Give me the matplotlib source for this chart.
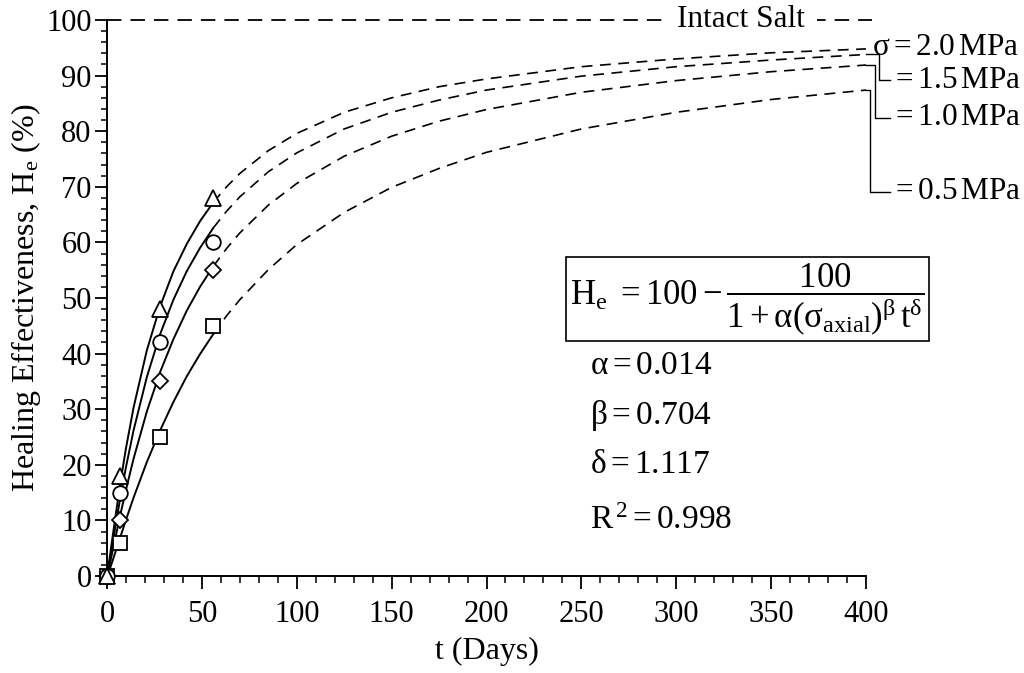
import numpy as np
import matplotlib
matplotlib.use('Agg')
from matplotlib import pyplot as plt
from matplotlib.ticker import MultipleLocator

plt.rcParams['font.family'] = ['Liberation Serif', 'DejaVu Serif']
plt.rcParams['mathtext.fontset'] = 'custom'
plt.rcParams['mathtext.rm'] = 'Liberation Serif'
plt.rcParams['mathtext.it'] = 'Liberation Serif:italic'
plt.rcParams['mathtext.default'] = 'rm'

# measured points (days, healing effectiveness %)
t_test = [0, 7, 28, 56]
he_20 = [0, 18, 48, 68]
he_15 = [0, 15, 42, 60]
he_10 = [0, 10, 35, 55]
he_05 = [0, 6, 25, 45]

# fitted curves: solid part up to 56 days, dashed beyond
t_solid = [0, 1.5, 3, 7, 10, 14, 21, 28, 35, 42, 49, 56]
fit_20_solid = [0, 3.5, 7.2, 16.7, 23.0, 30.3, 40.6, 48.5, 54.8, 59.7, 63.8, 67.2]
fit_15_solid = [0, 2.8, 6.0, 14.1, 19.6, 26.2, 35.8, 43.5, 49.7, 54.8, 59.0, 62.6]
fit_10_solid = [0, 2.2, 4.6, 11.0, 15.5, 21.1, 29.6, 36.7, 42.6, 47.7, 52.0, 55.7]
fit_05_solid = [0, 1.3, 2.8, 7.0, 10.1, 14.1, 20.5, 26.2, 31.3, 35.9, 39.9, 43.5]

t_dash = [56, 63, 70, 85, 100, 125, 150, 175, 200, 250, 300, 350, 400]
fit_20_dash = [67.2, 70.0, 72.4, 76.5, 79.6, 83.4, 86.0, 88.0, 89.4, 91.6, 93.0, 94.1, 94.8]
fit_15_dash = [62.6, 65.6, 68.2, 72.7, 76.1, 80.4, 83.4, 85.6, 87.4, 89.9, 91.6, 92.8, 93.8]
fit_10_dash = [55.7, 58.9, 61.7, 66.7, 70.6, 75.5, 79.1, 81.8, 83.9, 87.0, 89.1, 90.7, 91.9]
fit_05_dash = [43.5, 46.8, 49.7, 55.1, 59.6, 65.4, 69.9, 73.3, 76.2, 80.4, 83.4, 85.7, 87.4]

# drawn bottom-up so the triangle sits on top at the origin
series = [
    ('s', he_05, fit_05_solid, fit_05_dash),
    ('D', he_10, fit_10_solid, fit_10_dash),
    ('o', he_15, fit_15_solid, fit_15_dash),
    ('^', he_20, fit_20_solid, fit_20_dash),
]
msizes = {'^': 11, 'o': 10.5, 'D': 8.5, 's': 10.5}

fig = plt.figure(figsize=(10.24, 6.73), dpi=100)
ax = fig.add_axes([0.1045, 0.1441, 0.7412, 0.8262])

for m, pts, solid, dash in series:
    ax.plot(t_solid, solid, color='black', lw=1.4, zorder=2)
    ax.plot(t_dash, dash, color='black', lw=1.2, dashes=(6.5, 4.5), zorder=2)
    ax.plot(t_test, pts, linestyle='none', marker=m, ms=msizes[m],
            mfc='white', mec='black', mew=1.3, clip_on=False, zorder=3)

# intact salt reference line
ax.plot([0, 403], [100, 100], color='black', lw=1.3, dashes=(8, 5), clip_on=False)
ax.text(334, 100, 'Intact Salt', fontsize=22.5, ha='center', va='center',
        bbox=dict(fc='white', ec='none', pad=9), zorder=4)

# stress labels with connectors
ax.text(403, 95.1, r'$\sigma = 2.0\,\mathrm{MPa}$', fontsize=22.5, ha='left', va='center',
        clip_on=False)
conn = [(406.9, 93.8, 89.2, '=1.5'), (404.7, 91.9, 82.4, '=1.0'), (402.1, 87.4, 69.1, '=0.5')]
for xc, y0, y1, lab in conn:
    ax.plot([400, xc, xc, 412.6], [y0, y0, y1, y1], color='black', lw=1.0, clip_on=False)
    ax.text(413.2, y1, r'$' + lab + r'\,\mathrm{MPa}$', fontsize=22.5, ha='left', va='center')

# model equation and parameters
ax.text(337.5, 49.8,
        r'$\mathrm{H_e}\ = 100 - \dfrac{100}{1 + \alpha(\sigma_{\mathrm{axial}})^{\beta}\,\mathrm{t}^{\delta}}$',
        fontsize=25, ha='center', va='center',
        bbox=dict(boxstyle='square', fc='white', ec='black', lw=1.2, pad=0.12))
px = 254.5
ax.text(px, 37.8, r'$\alpha = 0.014$', fontsize=24, ha='left', va='center')
ax.text(px, 28.8, r'$\beta = 0.704$', fontsize=24, ha='left', va='center')
ax.text(px, 20.0, r'$\delta = 1.117$', fontsize=24, ha='left', va='center')
ax.text(px, 9.9, r'$\mathrm{R}^{\,2} = 0.998$', fontsize=24, ha='left', va='center')

ax.set_xlim(0, 400)
ax.set_ylim(0, 100)
ax.spines['top'].set_visible(False)
ax.spines['right'].set_visible(False)
for s in ['left', 'bottom']:
    ax.spines[s].set_linewidth(1.4)
ax.xaxis.set_major_locator(MultipleLocator(50))
ax.xaxis.set_minor_locator(MultipleLocator(10))
ax.yaxis.set_major_locator(MultipleLocator(10))
ax.yaxis.set_minor_locator(MultipleLocator(2))
ax.tick_params(axis='x', which='major', direction='out', length=9, width=1.3, pad=8, labelsize=22)
ax.tick_params(axis='x', which='minor', direction='out', length=5, width=1.1)
ax.tick_params(axis='y', which='major', direction='out', length=9, width=1.3, pad=2, labelsize=22)
ax.tick_params(axis='y', which='minor', direction='out', length=4, width=1.1)
ax.xaxis.get_major_ticks()[0].set_pad(12)

ax.set_xlabel('t (Days)', fontsize=23, labelpad=6)
ax.set_ylabel(r'Healing Effectiveness, H$_\mathrm{e}$ (%)', fontsize=23, labelpad=2)

fig.savefig('out.png', dpi=100)
